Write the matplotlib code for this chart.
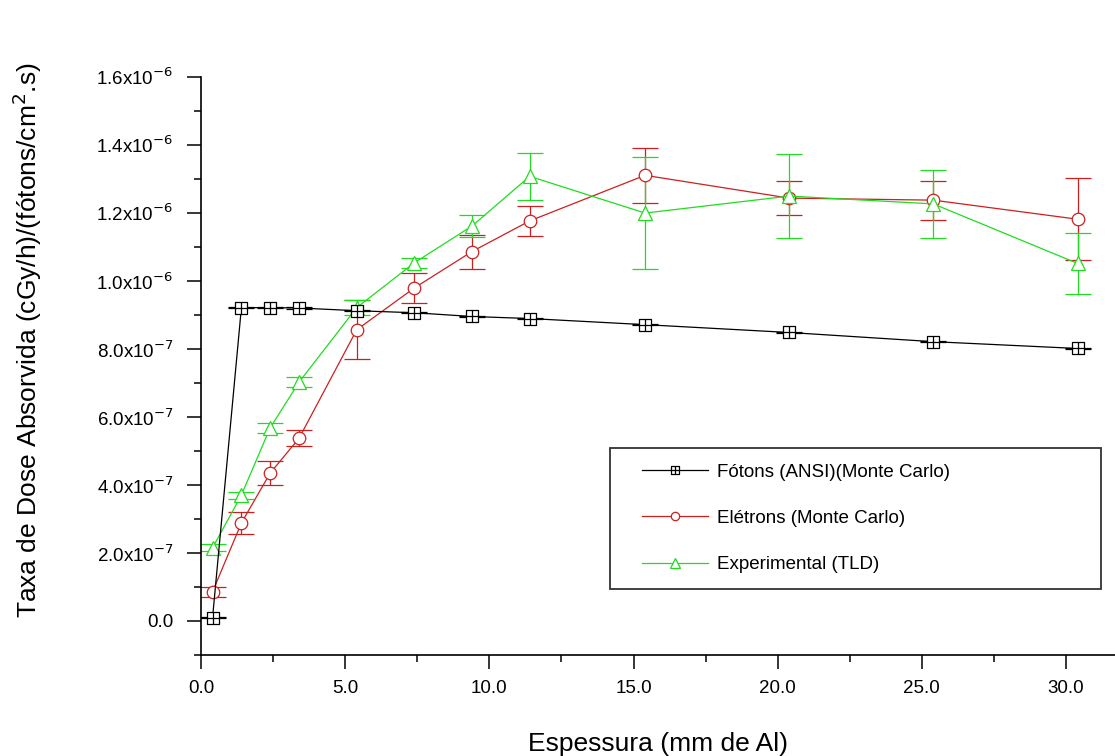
import numpy as np
import matplotlib
matplotlib.use('Agg')
import matplotlib.pyplot as plt
from matplotlib.path import Path
from matplotlib.lines import Line2D
from matplotlib.legend_handler import HandlerLine2D
from matplotlib.ticker import FuncFormatter, MultipleLocator

plt.rcParams['font.family'] = ['Liberation Sans', 'DejaVu Sans']

# Espessura (mm de Al)
esp = [0.4, 1.4, 2.4, 3.4, 5.4, 7.4, 9.4, 11.4, 15.4, 20.4, 25.4, 30.4]

# Taxa de dose (x1e-6)
fotons = [0.010, 0.921, 0.921, 0.920, 0.912, 0.906, 0.895, 0.889, 0.871, 0.848, 0.821, 0.801]
fotons_err = [0.002] * 12

eletrons = [0.086, 0.288, 0.435, 0.537, 0.856, 0.979, 1.086, 1.176, 1.310, 1.243, 1.237, 1.181]
eletrons_err = [0.015, 0.031, 0.034, 0.024, 0.087, 0.043, 0.050, 0.045, 0.080, 0.050, 0.057, 0.120]

experimental = [0.215, 0.370, 0.568, 0.702, 0.921, 1.053, 1.161, 1.307, 1.199, 1.249, 1.226, 1.051]
experimental_err = [0.010, 0.010, 0.015, 0.015, 0.022, 0.015, 0.033, 0.070, 0.164, 0.123, 0.100, 0.090]

labels = ['Fótons (ANSI)(Monte Carlo)', 'Elétrons (Monte Carlo)', 'Experimental (TLD)']

# marcador quadrado com cruz (estilo Origin)
sq_cross = Path(
    [(-1, -1), (1, -1), (1, 1), (-1, 1), (-1, -1), (0, -1), (0, 1), (-1, 0), (1, 0)],
    [Path.MOVETO, Path.LINETO, Path.LINETO, Path.LINETO, Path.CLOSEPOLY,
     Path.MOVETO, Path.LINETO, Path.MOVETO, Path.LINETO])

red = '#cc2020'
green = '#20dc20'


class ShiftedLine(HandlerLine2D):
    # linha da legenda deslocada para a direita, como no Origin
    def get_xdata(self, legend, xdescent, ydescent, width, height, fontsize):
        x0 = -xdescent + 0.85 * fontsize
        x1 = width - xdescent
        return np.array([x0, x1]), np.array([(x0 + x1) / 2])


fig = plt.figure(figsize=(11.15, 7.56), dpi=100)
ax = fig.add_axes([0.1803, 0.1336, 0.8197, 0.765])

x = np.array(esp)
kw = dict(lw=0.9, elinewidth=0.9, capsize=9.5, capthick=0.9, mew=0.9, mfc='white')
ax.errorbar(x, np.array(eletrons) * 1e-6, yerr=np.array(eletrons_err) * 1e-6,
            color=red, marker='o', ms=9, **kw)
ax.errorbar(x, np.array(experimental) * 1e-6, yerr=np.array(experimental_err) * 1e-6,
            color=green, marker='^', ms=10, **kw)
ax.errorbar(x, np.array(fotons) * 1e-6, yerr=np.array(fotons_err) * 1e-6,
            color='black', marker=sq_cross, ms=8, **kw)

ax.set_xlim(0, 31.7)
ax.set_ylim(-1e-7, 1.6e-6)

ax.xaxis.set_major_locator(MultipleLocator(5))
ax.xaxis.set_minor_locator(MultipleLocator(2.5))
ax.yaxis.set_major_locator(MultipleLocator(2e-7))
ax.yaxis.set_minor_locator(MultipleLocator(1e-7))


def yfmt(v, pos):
    if abs(v) < 1e-12:
        return '0.0'
    e = int(np.floor(np.log10(abs(v)) + 1e-9))
    m = v / 10 ** e
    return '%.1fx10$^{%d}$' % (m, e)


ax.yaxis.set_major_formatter(FuncFormatter(yfmt))
ax.xaxis.set_major_formatter(FuncFormatter(lambda v, p: '%.1f' % v))

for s in ['top', 'right']:
    ax.spines[s].set_visible(False)
for s in ['left', 'bottom']:
    ax.spines[s].set_linewidth(1.2)

ax.tick_params(which='major', direction='out', length=10, width=1.1, labelsize=13.5)
ax.tick_params(which='minor', direction='out', length=5, width=1.1)
ax.tick_params(axis='y', pad=10)
ax.tick_params(axis='x', pad=8)

ax.set_xlabel('Espessura (mm de Al)', fontsize=19)
ax.xaxis.set_label_coords(0.5, -0.133)
ax.set_ylabel('Taxa de Dose Absorvida (cGy/h)/(fótons/cm$^2$.s)', fontsize=19)
ax.yaxis.set_label_coords(-0.172, 0.545)

handles = [
    Line2D([], [], color='black', lw=0.9, marker=sq_cross, ms=6, mfc='white', mew=0.9),
    Line2D([], [], color=red, lw=0.9, marker='o', ms=6, mfc='white', mew=0.9),
    Line2D([], [], color=green, lw=0.9, marker='^', ms=7, mfc='white', mew=0.9),
]
leg = ax.legend(handles, labels,
                loc='lower left', bbox_to_anchor=(0.4475, 0.114, 0.537, 0.256),
                mode='expand', fontsize=13.5, frameon=True, fancybox=False,
                handlelength=4.35, handletextpad=0.5, labelspacing=1.55,
                borderpad=0.85, borderaxespad=0,
                handler_map={Line2D: ShiftedLine()})
leg.get_frame().set_edgecolor('black')
leg.get_frame().set_linewidth(1.3)

fig.savefig('out.png', dpi=100)
